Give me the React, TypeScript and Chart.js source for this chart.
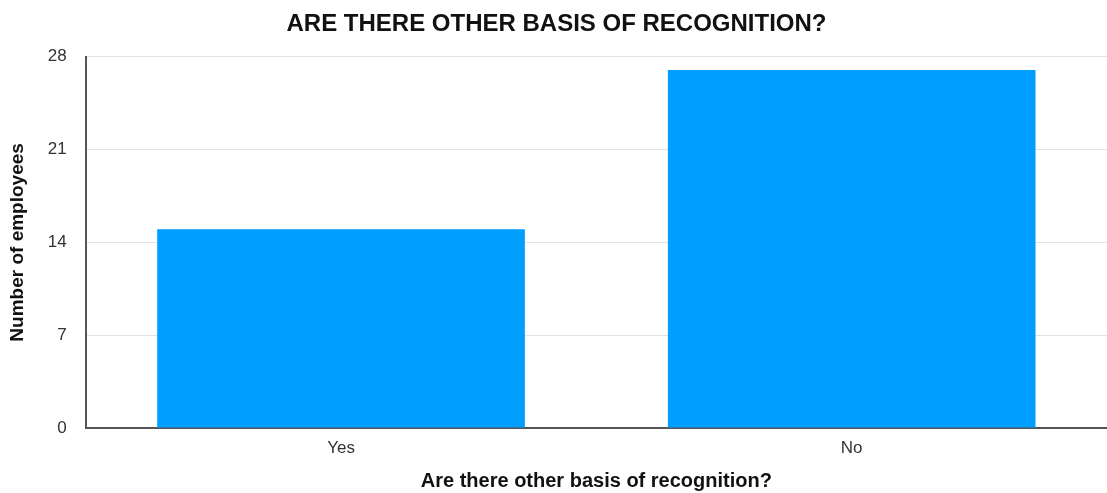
import React, { useEffect, useRef } from "react";
import { Chart, registerables } from "chart.js";

Chart.register(...registerables);

const categories = ["Yes", "No"];
const employeeCounts = [15, 27];
const yTicks = [0, 7, 14, 21, 28];

const FONT = "'Liberation Sans', Arial, Helvetica, sans-serif";

export default function App() {
  const canvasRef = useRef<HTMLCanvasElement | null>(null);

  useEffect(() => {
    if (!canvasRef.current) return;
    const chart = new Chart(canvasRef.current, {
      type: "bar",
      data: {
        labels: categories,
        datasets: [
          {
            label: "Number of employees",
            data: employeeCounts,
            backgroundColor: "rgb(0,158,255)",
            borderWidth: 0,
            barPercentage: 0.72,
            categoryPercentage: 1,
          },
        ],
      },
      options: {
        animation: false,
        responsive: false,
        maintainAspectRatio: false,
        layout: { padding: { left: 6, right: 0, top: 4, bottom: 0 } },
        plugins: {
          legend: { display: false },
          tooltip: { enabled: false },
          title: {
            display: true,
            text: "ARE THERE OTHER BASIS OF RECOGNITION?",
            color: "#111",
            font: { family: FONT, size: 24, weight: "bold" },
            padding: { top: 6, bottom: 18 },
          },
        },
        scales: {
          x: {
            grid: { display: false, drawTicks: false },
            border: { display: true, color: "#555", width: 2 },
            ticks: {
              color: "#333",
              font: { family: FONT, size: 17, lineHeight: 1 },
              padding: 12,
            },
            title: {
              display: true,
              text: "Are there other basis of recognition?",
              color: "#111",
              font: { family: FONT, size: 20, weight: "bold" },
              padding: { top: 0, bottom: 0 },
            },
          },
          y: {
            min: 0,
            max: 28,
            afterBuildTicks: (axis: any) => {
              axis.ticks = yTicks.map((v) => ({ value: v }));
            },
            grid: { color: "#e2e2e2", lineWidth: 1, drawTicks: false },
            border: { display: true, color: "#555", width: 2 },
            ticks: {
              color: "#333",
              font: { family: FONT, size: 17 },
              padding: 19,
            },
            title: {
              display: true,
              text: "Number of employees",
              color: "#111",
              font: { family: FONT, size: 19, weight: "bold" },
              padding: { top: 0, bottom: 0 },
            },
          },
        },
      },
    });
    return () => chart.destroy();
  }, []);

  return (
    <div style={{ position: "fixed", left: 0, top: 0, width: 1107, height: 493, background: "#fff" }}>
      <canvas ref={canvasRef} width={1107} height={493} style={{ display: "block" }} />
    </div>
  );
}
